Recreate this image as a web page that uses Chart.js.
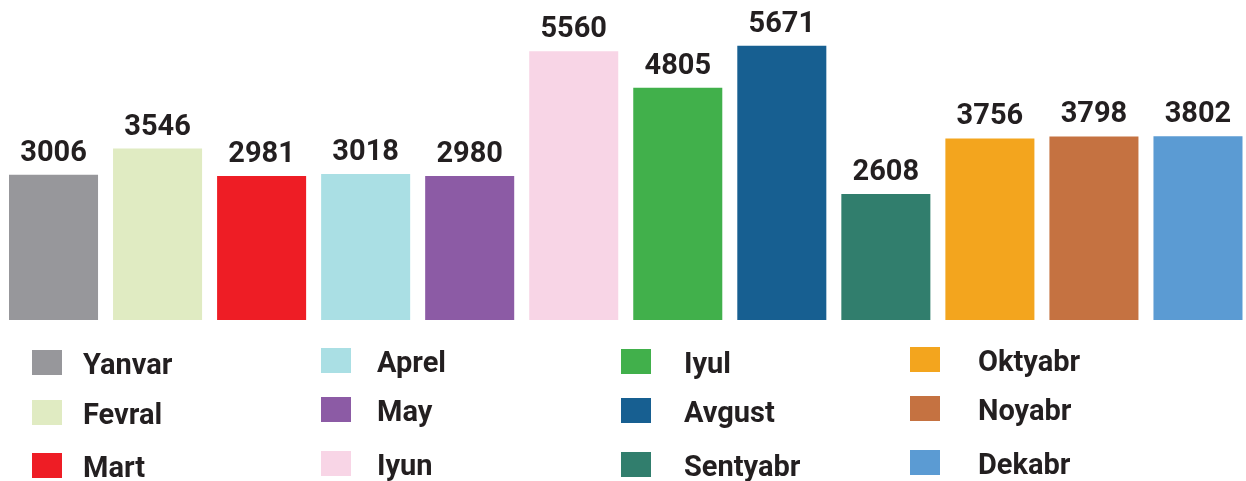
<!DOCTYPE html>
<html>
<head>
<meta charset="utf-8">
<script src="https://cdn.jsdelivr.net/npm/chart.js@4"></script>
<style>
  html, body { margin: 0; padding: 0; background: #fff; overflow: hidden; }
  #wrap { width: 1246px; height: 481px; overflow: hidden; }
</style>
</head>
<body>
<div id="wrap"><canvas id="chart" width="1250" height="481"></canvas></div>
<script>
const months = ['Yanvar', 'Fevral', 'Mart', 'Aprel', 'May', 'Iyun', 'Iyul', 'Avgust', 'Sentyabr', 'Oktyabr', 'Noyabr', 'Dekabr'];
const values = [3006, 3546, 2981, 3018, 2980, 5560, 4805, 5671, 2608, 3756, 3798, 3802];
const colors = ['#97979b', '#e0ebc2', '#ee1d25', '#aadfe4', '#8c5ba5', '#f8d5e6', '#41b04b', '#175f91', '#317e6d', '#f3a51e', '#c57241', '#5b9bd3'];

const textColor = '#231f20';
const font = 'bold 29px Roboto';

// numbers above the bars
const valueLabels = {
  id: 'valueLabels',
  afterDatasetsDraw(chart) {
    const ctx = chart.ctx;
    const meta = chart.getDatasetMeta(0);
    ctx.save();
    ctx.font = font;
    ctx.fillStyle = textColor;
    ctx.textAlign = 'center';
    ctx.textBaseline = 'alphabetic';
    meta.data.forEach((bar, i) => {
      ctx.fillText(String(values[i]), bar.x, bar.y - 14);
    });
    ctx.restore();
  }
};

// legend: 4 columns x 3 rows under the bars
const gridLegend = {
  id: 'gridLegend',
  afterDraw(chart) {
    const ctx = chart.ctx;
    const colX = [32, 321, 621, 910];
    const textX = [83, 377, 684, 978];
    const rowY = [[350, 400, 453], [348, 397, 451], [349, 398, 452], [347, 396, 450]];
    ctx.save();
    ctx.font = font;
    ctx.textBaseline = 'alphabetic';
    ctx.textAlign = 'left';
    months.forEach((m, i) => {
      const c = Math.floor(i / 3), r = i % 3;
      const y = rowY[c][r];
      ctx.fillStyle = colors[i];
      ctx.fillRect(colX[c], y, 30, 25);
      ctx.fillStyle = textColor;
      ctx.fillText(m, textX[c], y + 24);
    });
    ctx.restore();
  }
};

new Chart(document.getElementById('chart'), {
  type: 'bar',
  data: {
    labels: months,
    datasets: [{
      data: values,
      backgroundColor: colors,
      borderWidth: 0,
      barPercentage: 89 / 104,
      categoryPercentage: 1
    }]
  },
  options: {
    responsive: false,
    devicePixelRatio: 1,
    animation: false,
    layout: { padding: { left: 1.5, right: 0, top: 0, bottom: 161 } },
    plugins: { legend: { display: false }, tooltip: { enabled: false } },
    scales: {
      x: { display: false },
      y: { display: false, min: 0, max: 6620 }
    }
  },
  plugins: [valueLabels, gridLegend]
});
</script>
</body>
</html>
